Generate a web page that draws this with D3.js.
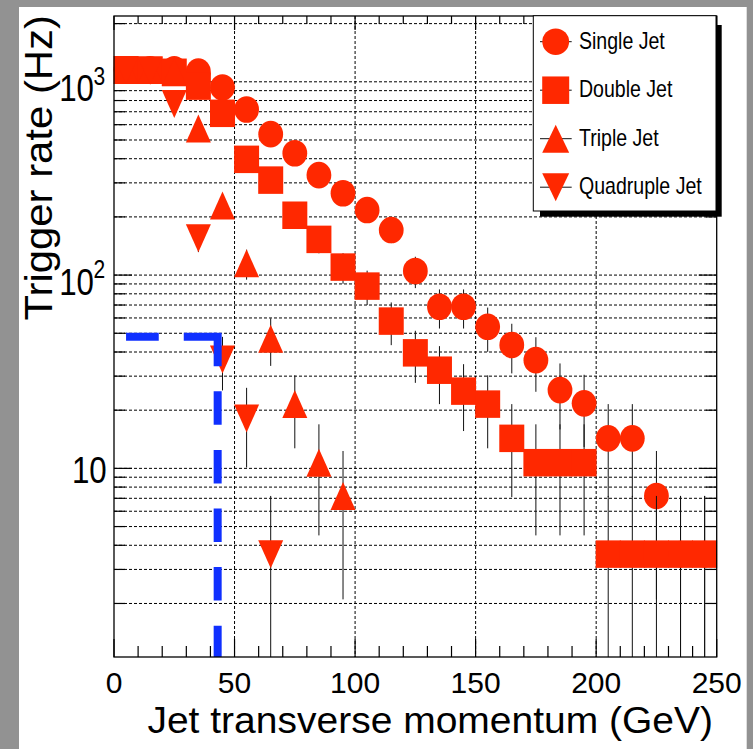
<!DOCTYPE html>
<html>
<head>
<meta charset="utf-8">
<title>Trigger rate vs jet transverse momentum</title>
<style>body{margin:0;background:#fff} svg{display:block}</style>
</head>
<body>
<script src="https://d3js.org/d3.v7.min.js"></script>
<script>
// bin centres (GeV) and rates (Hz); null = empty bin
var ptBins = [5,15,25,35,45,55,65,75,85,95,105,115,125,135,145,155,165,175,185,195,205,215,225,235,245];

var singleJet    = [1160,1160,1160,1130,935,719,536,427,329,265,217,171,105,68.6,68.6,54,43.5,36.3,25.4,21.7,14.3,14.3,7.2,3.6,3.6];
var singleJetErr = [64,64,64,63.6,57.9,50.7,43.8,39.1,34.3,30.8,27.9,24.7,19.4,15.7,15.7,13.9,12.5,11.4,9.5,8.8,7.2,7.2,5.1,3.6,3.6];

var doubleJet    = [1150,1150,1120,950,687,397,310,204,153,110,87.7,57.8,39.6,32.2,25.1,21.5,14.3,10.7,10.7,10.7,3.6,3.6,3.6,3.6,3.6];
var doubleJetErr = [64,64,63,58,49.6,37.7,33.3,27,23.4,19.8,17.7,14.4,11.9,10.7,9.5,8.8,7.2,6.2,6.2,6.2,3.6,3.6,3.6,3.6,3.6];

var tripleJet    = [1150,1150,1120,574,229,115,46.8,21.5,10.7,7.2,null,null,null,null,null,null,null,null,null,null,null,null,null,null,null];
var tripleJetErr = [64,64,63,45.3,28.6,20.3,12.9,8.8,6.2,5.1,null,null,null,null,null,null,null,null,null,null,null,null,null,null,null];

var quadJet      = [1150,1140,767,155,36.6,18.1,3.6,null,null,null,null,null,null,null,null,null,null,null,null,null,null,null,null,null,null];
var quadJetErr   = [64,64,52.4,23.5,11.3,8,3.6,null,null,null,null,null,null,null,null,null,null,null,null,null,null,null,null,null,null];

var legendNames = ['Single Jet','Double Jet','Triple Jet','Quadruple Jet'];
var xTickLabels = [0,50,100,150,200,250];
var yTickLabels = [{v:10, base:'10', exp:''}, {v:100, base:'10', exp:'2'}, {v:1000, base:'10', exp:'3'}];

// blue budget line: 48 Hz up to a 43 GeV threshold
var rateBudget = 48, budgetFrom = 5, thresholdPt = 43;

var W = 753, H = 749;
var fL = 114, fR = 716.7, fT = 16, fB = 657;
var red = '#ff2800', font = '"Liberation Sans", Arial, Helvetica, sans-serif';

var svg = d3.select('body').append('svg').attr('width', W).attr('height', H);
svg.append('rect').attr('width', W).attr('height', H).attr('fill', '#929292');
svg.append('rect').attr('x', 19).attr('y', 7).attr('width', 727.7).attr('height', H - 7).attr('fill', '#fff');

var x = d3.scaleLinear().domain([0, 250]).range([fL, fR]);
var y = d3.scaleLog().domain([1.057, 2190]).range([fB, fT]);

function txt(g, s, px, py, size, anchor, sx, sy, rot) {
  var tr = 'translate(' + px + ',' + py + ')' + (rot ? ' rotate(' + rot + ')' : '') + ' scale(' + sx + ',' + sy + ')';
  return g.append('text').attr('transform', tr).attr('text-anchor', anchor)
    .style('font-family', font).style('font-size', size + 'px').attr('fill', '#000').text(s);
}

// grid
var yTicks = y.ticks();
var isMajor = function(v) { return Math.abs(Math.log10(v) - Math.round(Math.log10(v))) < 1e-9; };
var grid = svg.append('g').attr('stroke', '#000').attr('stroke-width', 1).attr('stroke-dasharray', '3,2');
grid.selectAll('.hg').data(yTicks).enter().append('line')
  .attr('x1', fL).attr('x2', fR).attr('y1', function(d){return y(d);}).attr('y2', function(d){return y(d);});
grid.selectAll('.vg').data(xTickLabels.slice(1, -1)).enter().append('line')
  .attr('y1', fT).attr('y2', fB).attr('x1', function(d){return x(d);}).attr('x2', function(d){return x(d);});

// ticks
var ticks = svg.append('g').attr('stroke', '#000').attr('stroke-width', 1.2);
yTicks.forEach(function(v) {
  var len = isMajor(v) ? 18 : 11;
  ticks.append('line').attr('x1', fL).attr('x2', fL + len).attr('y1', y(v)).attr('y2', y(v));
  ticks.append('line').attr('x1', fR).attr('x2', fR - len).attr('y1', y(v)).attr('y2', y(v));
});
x.ticks(25).forEach(function(v) {
  var maj = v % 50 === 0;
  ticks.append('line').attr('x1', x(v)).attr('x2', x(v)).attr('y1', fB).attr('y2', fB - (maj ? 18 : 11));
  ticks.append('line').attr('x1', x(v)).attr('x2', x(v)).attr('y1', fT).attr('y2', fT + (maj ? 14 : 8));
});

// markers
function shapePath(shape, w, h) {
  var rx = w / 2, ry = h / 2;
  if (shape === 'circle') return 'M' + (-rx) + ',0A' + rx + ',' + ry + ' 0 1,0 ' + rx + ',0A' + rx + ',' + ry + ' 0 1,0 ' + (-rx) + ',0Z';
  if (shape === 'square') return 'M' + (-rx) + ',' + (-ry) + 'h' + w + 'v' + h + 'h' + (-w) + 'Z';
  if (shape === 'up') return 'M0,' + (-ry) + 'L' + rx + ',' + ry + 'L' + (-rx) + ',' + ry + 'Z';
  return 'M0,' + ry + 'L' + rx + ',' + (-ry) + 'L' + (-rx) + ',' + (-ry) + 'Z';
}
var sizes = {circle: [24.8, 26.6], square: [25, 27.5], up: [25, 28], down: [25, 28]};

var series = [
  {vals: singleJet, errs: singleJetErr, shape: 'circle'},
  {vals: doubleJet, errs: doubleJetErr, shape: 'square'},
  {vals: tripleJet, errs: tripleJetErr, shape: 'up'},
  {vals: quadJet, errs: quadJetErr, shape: 'down'}
];

series.forEach(function(s) {
  var pts = ptBins.map(function(p, i) { return {x: p, v: s.vals[i], e: s.errs[i]}; })
    .filter(function(d) { return d.v != null; });
  var g = svg.append('g');
  g.selectAll('line').data(pts).enter().append('line')
    .attr('x1', function(d){return x(d.x);}).attr('x2', function(d){return x(d.x);})
    .attr('y1', function(d){return Math.max(fT, y(d.v + d.e));})
    .attr('y2', function(d){return d.v - d.e > y.domain()[0] ? y(d.v - d.e) : fB;})
    .attr('stroke', '#111').attr('stroke-width', 1);
  var sz = sizes[s.shape];
  g.selectAll('path').data(pts).enter().append('path')
    .attr('d', shapePath(s.shape, sz[0], sz[1]))
    .attr('transform', function(d){return 'translate(' + x(d.x) + ',' + y(d.v) + ')';})
    .attr('fill', red);
});

// blue budget line
var bw = 8;
svg.append('line').attr('x1', x(budgetFrom)).attr('x2', x(thresholdPt))
  .attr('y1', y(rateBudget)).attr('y2', y(rateBudget))
  .attr('stroke', '#1030ff').attr('stroke-width', bw).attr('stroke-dasharray', '32.7,25');
svg.append('line').attr('x1', x(thresholdPt)).attr('x2', x(thresholdPt))
  .attr('y1', y(rateBudget) - bw / 2).attr('y2', fB)
  .attr('stroke', '#1030ff').attr('stroke-width', bw).attr('stroke-dasharray', '33.5,25.1');

// frame
svg.append('rect').attr('x', fL).attr('y', fT).attr('width', fR - fL).attr('height', fB - fT)
  .attr('fill', 'none').attr('stroke', '#000').attr('stroke-width', 1.3);

// tick labels
xTickLabels.forEach(function(v) { txt(svg, v, x(v), fB + 36.3, 30, 'middle', 1, 1); });
yTickLabels.forEach(function(t) {
  if (!t.exp) { txt(svg, t.base, 106.7, y(t.v) + 15, 37, 'end', 0.845, 1); return; }
  txt(svg, t.base, 94, y(t.v) + 19.5, 37, 'end', 0.845, 1);
  txt(svg, t.exp, 93.5, y(t.v) + 3, 25, 'start', 0.84, 1);
});

// axis titles
txt(svg, 'Jet transverse momentum (GeV)', 713, 733.3, 37.5, 'end', 1.04, 1);
txt(svg, 'Trigger rate (Hz)', 51.7, 15, 39.7, 'end', 1.055, 1, -90);

// legend
var lg = svg.append('g');
lg.append('rect').attr('x', 540).attr('y', 25).attr('width', 181.7).attr('height', 191.7).attr('fill', '#000');
lg.append('rect').attr('x', 533.3).attr('y', 15.7).attr('width', 182.7).attr('height', 195.3)
  .attr('fill', '#fff').attr('stroke', '#000').attr('stroke-width', 1);
legendNames.forEach(function(name, i) {
  var cy = 41.7 + i * 48.5, s = series[i].shape, sz = sizes[s];
  lg.append('line').attr('x1', 540).attr('x2', 571.7).attr('y1', cy).attr('y2', cy).attr('stroke', '#111');
  lg.append('path').attr('d', shapePath(s, sz[0] * 1.08, sz[1]))
    .attr('transform', 'translate(555.7,' + cy + ')').attr('fill', red);
  txt(lg, name, 579, cy + 7, 23, 'start', 0.85, 1);
});
</script>
</body>
</html>
